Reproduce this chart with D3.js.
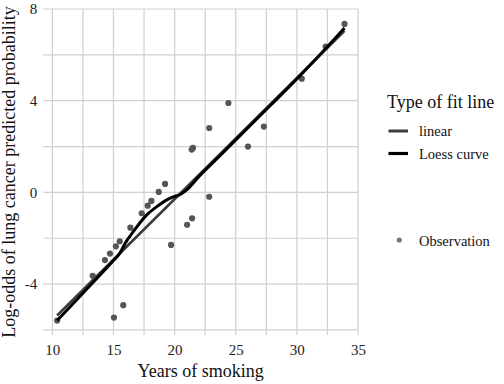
<!DOCTYPE html>
<html><head><meta charset="utf-8">
<script src="https://cdn.jsdelivr.net/npm/d3@7"></script>
<style>body{margin:0;background:#fff}svg{display:block}svg text{font-family:"Liberation Serif","Times New Roman",serif !important}</style>
</head><body><svg id="c" width="504" height="384"></svg>
<script>
const obsX = [10.39,13.30,14.30,14.71,15.20,15.51,15.04,15.80,16.38,17.31,17.80,18.10,18.70,19.22,19.71,21.02,21.43,21.40,21.50,22.83,22.83,24.40,26.00,27.30,30.40,32.36,33.90];
const obsY = [-5.59,-3.64,-2.95,-2.67,-2.35,-2.13,-5.46,-4.92,-1.54,-0.91,-0.58,-0.37,0.02,0.37,-2.29,-1.41,-1.13,1.87,1.94,2.81,-0.19,3.90,2.00,2.87,4.96,6.36,7.35];
const linearX = [10.39,33.90];
const linearY = [-5.37,7.05];
const loessX = [10.39,12.0,13.5,15.0,15.5,16.0,16.62,17.2,17.72,18.54,19.48,20.0,20.44,20.99,22.0,24.0,26.0,28.0,30.0,32.0,33.9];
const loessY = [-5.59,-4.68,-3.83,-2.97,-2.67,-2.18,-1.71,-1.30,-0.98,-0.62,-0.29,-0.17,-0.10,0.11,0.70,1.75,2.82,3.88,4.95,6.07,7.17];
const xMajor = [10,15,20,25,30,35];
const xMinor = [12.5,17.5,22.5,27.5,32.5];
const yMajor = [8,4,0,-4];
const yMinor = [6,2,-2,-6];

const svg = d3.select("#c");
const x = d3.scaleLinear().domain([9.26,35]).range([43.3,358]);
const y = d3.scaleLinear().domain([-6.22,8]).range([335,9]);
const grid = svg.append("g");
[...xMajor,...xMinor].forEach(v=>grid.append("line").attr("x1",x(v)).attr("x2",x(v)).attr("y1",y.range()[0]).attr("y2",y.range()[1]).attr("stroke","#d0d0d0").attr("stroke-width",1.2));
[...yMajor,...yMinor].forEach(v=>grid.append("line").attr("y1",y(v)).attr("y2",y(v)).attr("x1",x.range()[0]).attr("x2",x.range()[1]).attr("stroke","#d0d0d0").attr("stroke-width",1.2));

const xa = svg.append("g").attr("transform","translate(0,335)").call(d3.axisBottom(x).tickValues(xMajor).tickSize(0).tickPadding(9).tickFormat(d3.format("d")));
xa.attr("font-family",null).select(".domain").remove();
xa.selectAll("text").style("font-size","15px").style("font-family","'Liberation Serif', serif").attr("fill","#222");
const ya = svg.append("g").attr("transform","translate(43.3,0)").call(d3.axisLeft(y).tickValues(yMajor).tickSize(0).tickPadding(6).tickFormat(d=>d<0?"-"+Math.abs(d):d));
ya.attr("font-family",null).select(".domain").remove();
ya.selectAll("text").style("font-size","15px").style("font-family","'Liberation Serif', serif").attr("fill","#222");

const obs = obsX.map((v,i)=>[v,obsY[i]]);
svg.append("g").selectAll("circle").data(obs).join("circle").attr("cx",d=>x(d[0])).attr("cy",d=>y(d[1])).attr("r",3.1).attr("fill","#555");
const line = d3.line().x(d=>x(d[0])).y(d=>y(d[1]));
svg.append("path").attr("d",line(linearX.map((v,i)=>[v,linearY[i]]))).attr("fill","none").attr("stroke","#3d3d3d").attr("stroke-width",2.6);
svg.append("path").attr("d",d3.line().x(d=>x(d[0])).y(d=>y(d[1])).curve(d3.curveMonotoneX)(loessX.map((v,i)=>[v,loessY[i]]))).attr("fill","none").attr("stroke","#000").attr("stroke-width",3);

svg.append("text").attr("x",200.6).attr("y",377).attr("text-anchor","middle").attr("font-size",18).attr("fill","#111").text("Years of smoking");
svg.append("text").attr("transform","translate(15,172) rotate(-90)").attr("text-anchor","middle").attr("font-size",18).attr("fill","#111").text("Log-odds of lung cancer predicted probability");

const lg = svg.append("g");
lg.append("text").attr("x",387).attr("y",108).attr("font-size",18).attr("fill","#111").text("Type of fit line");
lg.append("line").attr("x1",388.5).attr("x2",408).attr("y1",131).attr("y2",131).attr("stroke","#3d3d3d").attr("stroke-width",3);
lg.append("text").attr("x",419).attr("y",135.5).attr("font-size",14.5).attr("fill","#111").text("linear");
lg.append("line").attr("x1",388.5).attr("x2",408).attr("y1",153.5).attr("y2",153.5).attr("stroke","#000").attr("stroke-width",3.2);
lg.append("text").attr("x",419).attr("y",159).attr("font-size",14.5).attr("fill","#111").text("Loess curve");
lg.append("circle").attr("cx",399.3).attr("cy",240).attr("r",2.6).attr("fill","#777");
lg.append("text").attr("x",419).attr("y",245.5).attr("font-size",14.5).attr("fill","#111").text("Observation");
</script></body></html>
